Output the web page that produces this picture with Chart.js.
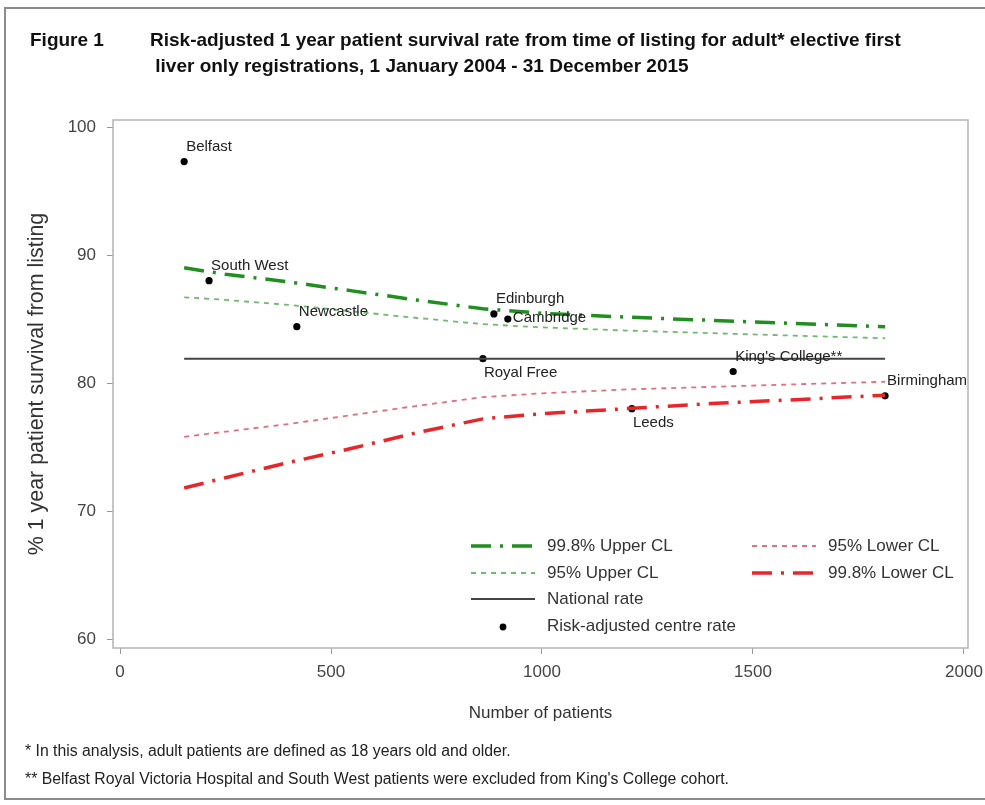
<!DOCTYPE html>
<html>
<head>
<meta charset="utf-8">
<script src="https://cdn.jsdelivr.net/npm/chart.js@4.4.1/dist/chart.umd.min.js"></script>
<style>
  html, body { margin: 0; padding: 0; background: #fff; }
  body { width: 985px; height: 805px; position: relative; overflow: hidden; }
  #frame { position: absolute; left: 4px; top: 7px; width: 990px; height: 789px; border: 2px solid #8a8a8a; }
  #chart { position: absolute; left: 0; top: 0; }
  .narrow { font-family: "Liberation Sans Narrow", "Arial Narrow", "Liberation Sans", Arial, sans-serif; position: absolute; white-space: pre; color: #111; }
  .title { font-weight: bold; font-size: 19px; }
  .note { font-size: 15.8px; color: #222; }
</style>
</head>
<body>
<div id="frame"></div>
<canvas id="chart" width="985" height="805"></canvas>
<div class="narrow title" style="left:30px; top:29px;">Figure 1</div>
<div class="narrow title" style="left:150px; top:29px;">Risk-adjusted 1 year patient survival rate from time of listing for adult* elective first</div>
<div class="narrow title" style="left:150px; top:55px;"> liver only registrations, 1 January 2004 - 31 December 2015</div>
<div class="narrow note" style="left:25px; top:742px;">* In this analysis, adult patients are defined as 18 years old and older.</div>
<div class="narrow note" style="left:25px; top:770px;">** Belfast Royal Victoria Hospital and South West patients were excluded from King's College cohort.</div>
<script>
// centres (risk-adjusted rates)
const centres = ["Belfast", "South West", "Newcastle", "Royal Free", "Edinburgh", "Cambridge", "Leeds", "King's College**", "Birmingham"];
const centrePatients = [152, 211, 419, 860, 886, 919, 1213, 1453, 1813];
const centreRates = [97.3, 88.0, 84.4, 81.9, 85.4, 85.0, 78.0, 80.9, 79.0];

// funnel limits
const limitPatients = [152, 250, 400, 550, 700, 860, 1000, 1200, 1400, 1600, 1813];
const upper998 = [89.0, 88.5, 87.9, 87.2, 86.5, 85.8, 85.45, 85.15, 84.9, 84.65, 84.4];
const upper95 = [86.7, 86.5, 86.1, 85.6, 85.1, 84.6, 84.35, 84.1, 83.9, 83.7, 83.5];
const lower95 = [75.8, 76.2, 76.8, 77.5, 78.2, 78.9, 79.2, 79.5, 79.7, 79.9, 80.1];
const lower998 = [71.8, 72.6, 73.8, 74.9, 76.1, 77.2, 77.6, 78.0, 78.4, 78.7, 79.05];
const nationalPatients = [152, 1813];
const nationalRate = [81.9, 81.9];

const xTicks = [0, 500, 1000, 1500, 2000];
const yTicks = [60, 70, 80, 90, 100];

// where each centre name sits relative to its dot
const labelSide = ["above", "above", "above", "below", "above", "right", "below", "above", "above"];

const pts = (xs, ys) => xs.map((x, i) => ({ x: x, y: ys[i] }));
const dashDot = [20, 9, 3, 9];
const font = "'Liberation Sans', Arial, sans-serif";

const datasets = [
  { label: "99.8% Upper CL", data: pts(limitPatients, upper998), borderColor: "#1f8f1f", borderWidth: 3.5, borderDash: dashDot, legendCol: 0, legendRow: 0 },
  { label: "95% Upper CL", data: pts(limitPatients, upper95), borderColor: "#72b872", borderWidth: 1.8, borderDash: [5, 5], legendCol: 0, legendRow: 1 },
  { label: "National rate", data: pts(nationalPatients, nationalRate), borderColor: "#444", borderWidth: 2, borderDash: [], legendCol: 0, legendRow: 2 },
  { label: "95% Lower CL", data: pts(limitPatients, lower95), borderColor: "#e07080", borderWidth: 1.8, borderDash: [5, 5], legendCol: 1, legendRow: 0 },
  { label: "99.8% Lower CL", data: pts(limitPatients, lower998), borderColor: "#e8262a", borderWidth: 3.5, borderDash: dashDot, legendCol: 1, legendRow: 1 },
].map(d => Object.assign(d, { showLine: true, pointRadius: 0, fill: false, tension: 0, borderCapStyle: "butt" }));

datasets.push({
  label: "Risk-adjusted centre rate",
  data: pts(centrePatients, centreRates),
  showLine: false,
  pointRadius: 3.6,
  pointBackgroundColor: "#000",
  pointBorderColor: "#000",
  pointBorderWidth: 0,
  legendCol: 0, legendRow: 3,
});

const frameAndLabels = {
  id: "frameAndLabels",
  afterDatasetsDraw(chart) {
    const ctx = chart.ctx;
    const a = chart.chartArea;
    ctx.save();
    ctx.strokeStyle = "#b4b4b4";
    ctx.lineWidth = 1.5;
    ctx.strokeRect(a.left, a.top, a.right - a.left, a.bottom - a.top);

    // centre names
    const meta = chart.getDatasetMeta(datasets.length - 1);
    ctx.font = "15px " + font;
    ctx.fillStyle = "#222";
    ctx.textAlign = "left";
    ctx.textBaseline = "middle";
    meta.data.forEach((p, i) => {
      const side = labelSide[i];
      let dx = 2, dy = -15;
      if (side === "right") { dx = 5; dy = -1; }
      if (side === "below") { dx = 1; dy = 14; }
      ctx.fillText(centres[i], p.x + dx, p.y + dy);
    });

    // legend inside plot
    const colX = [471, 752];
    const rowY = [546, 573, 599, 626];
    ctx.font = "17px " + font;
    datasets.forEach(d => {
      const x = colX[d.legendCol], y = rowY[d.legendRow];
      if (d.showLine) {
        ctx.beginPath();
        ctx.setLineDash(d.borderDash);
        ctx.strokeStyle = d.borderColor;
        ctx.lineWidth = d.borderWidth;
        ctx.moveTo(x, y);
        ctx.lineTo(x + 64, y);
        ctx.stroke();
        ctx.setLineDash([]);
      } else {
        ctx.beginPath();
        ctx.fillStyle = "#000";
        ctx.arc(x + 32, y + 1, 3.4, 0, Math.PI * 2);
        ctx.fill();
      }
      ctx.fillStyle = "#333";
      ctx.fillText(d.label, x + 76, y);
    });
    ctx.restore();
  }
};

new Chart(document.getElementById("chart"), {
  type: "scatter",
  data: { datasets: datasets },
  options: {
    responsive: false,
    animation: false,
    layout: { padding: { top: 120, right: 17, bottom: 0, left: 0 } },
    plugins: { legend: { display: false }, tooltip: { enabled: false } },
    scales: {
      x: {
        type: "linear",
        min: -16.6,
        max: 2009.5,
        afterBuildTicks: s => { s.ticks = xTicks.map(v => ({ value: v })); },
        afterFit: s => { s.height = 157; s.paddingLeft = 0; s.paddingRight = 0; },
        grid: { drawOnChartArea: false, drawTicks: true, tickLength: 6, color: "#999" },
        border: { display: false },
        ticks: { color: "#444", padding: 8, callback: v => String(v), font: { size: 17, family: font } },
        title: { display: true, text: "Number of patients", color: "#333", padding: { top: 0, bottom: 81 }, font: { size: 17, family: font } },
      },
      y: {
        type: "linear",
        min: 59.3,
        max: 100.55,
        afterBuildTicks: s => { s.ticks = yTicks.map(v => ({ value: v })); },
        afterFit: s => { s.width = 113; s.paddingTop = 0; s.paddingBottom = 0; },
        grid: { drawOnChartArea: false, drawTicks: true, tickLength: 6, color: "#999" },
        border: { display: false },
        ticks: { color: "#444", padding: 11, callback: v => String(v), font: { size: 17, family: font } },
        title: { display: true, text: "% 1 year patient survival from listing", color: "#333", padding: { top: 24, bottom: 0 }, font: { size: 21.4, family: font } },
      },
    },
  },
  plugins: [frameAndLabels],
});
</script>
</body>
</html>
